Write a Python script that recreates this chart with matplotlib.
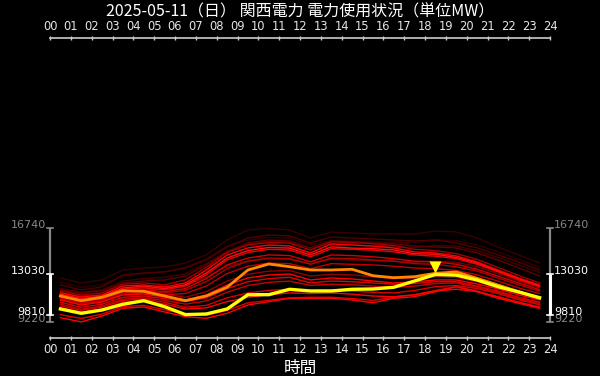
import matplotlib
matplotlib.use("Agg")
import matplotlib.pyplot as plt
import matplotlib.transforms as mtransforms

# hourly values (MW), plotted at the middle of each hour
hours = [h + 0.5 for h in range(24)]
hour_labels = ["%02d" % h for h in range(25)]

today = [10260, 9914, 10179, 10637, 10926, 10444, 9810, 9858, 10260, 11408, 11408, 11842,
         11705, 11705, 11842, 11866, 12002, 12508, 13030, 12980, 12589, 12050, 11625, 11167]
yesterday = [11304, 10926, 11199, 11729, 11681, 11304, 10926, 11304, 12002, 13391, 13873, 13656,
             13391, 13391, 13448, 12934, 12773, 12853, 13126, 13231, 12725, 12187, 11649, 11119]

# past days, drawn darkest first
past_days = [
    [12750, 12350, 12590, 13390, 13550, 13630, 13950, 14600, 15800, 16600, 16740, 16600,
     15960, 16440, 16360, 16280, 16280, 16280, 16520, 16440, 15960, 15240, 14600, 13950],
    [12400, 12000, 12200, 12900, 13100, 13250, 13600, 14300, 15300, 15800, 16000, 15950,
     15400, 15750, 15700, 15650, 15600, 15600, 15800, 15750, 15400, 14850, 14250, 13600],
    [11900, 11600, 11800, 12500, 12700, 12800, 13100, 13900, 14900, 15450, 15700, 15650,
     15150, 15500, 15400, 15300, 15250, 15200, 15350, 15300, 14950, 14400, 13800, 13200],
    [12190, 11790, 12030, 12990, 13150, 13230, 13550, 14190, 15240, 15960, 16200, 16120,
     15560, 16040, 15960, 15880, 15800, 15720, 15800, 15560, 15160, 14600, 14030, 13390],
    [11790, 11545, 11705, 12350, 12510, 12590, 12910, 13790, 14840, 15560, 15800, 15720,
     15160, 15720, 15640, 15560, 15480, 15320, 15240, 15160, 14760, 14190, 13550, 12910],
    [11600, 11250, 11400, 11900, 12000, 11950, 12150, 12800, 13700, 14100, 14300, 14250,
     13900, 14250, 14200, 14150, 14100, 14000, 14100, 14000, 13650, 13100, 12500, 11950],
    [11150, 10750, 10950, 11550, 11650, 11450, 11200, 11650, 12500, 13050, 13300, 13350,
     12900, 13050, 13000, 12850, 12700, 12750, 12850, 12800, 12450, 12000, 11500, 11050],
    [11700, 11380, 11550, 12250, 12350, 12200, 12600, 13600, 14800, 15400, 15600, 15550,
     15000, 15650, 15600, 15500, 15350, 15050, 14950, 14700, 14250, 13600, 12950, 12350],
    [11100, 10800, 10950, 11600, 11700, 11550, 11750, 12450, 13500, 14100, 14350, 14300,
     13850, 14350, 14300, 14200, 14100, 13900, 13850, 13650, 13300, 12750, 12200, 11700],
    [11000, 10700, 10850, 11450, 11550, 11400, 11500, 12100, 13100, 13700, 13950, 13900,
     13500, 13900, 13850, 13800, 13700, 13550, 13500, 13350, 13000, 12500, 11950, 11500],
    [10650, 10250, 10500, 11050, 11150, 10950, 10650, 10900, 11600, 12150, 12400, 12500,
     12150, 12250, 12200, 12100, 12000, 12100, 12300, 12350, 12000, 11600, 11100, 10700],
    [11200, 10900, 11050, 11700, 11800, 11650, 11900, 12700, 13800, 14350, 14600, 14550,
     14050, 14600, 14550, 14450, 14300, 14100, 14050, 13850, 13450, 12900, 12350, 11800],
    [10500, 10150, 10400, 10950, 11050, 10800, 10400, 10550, 11150, 11550, 11750, 11850,
     11750, 11800, 11700, 11600, 11550, 11750, 12050, 12150, 11900, 11500, 11000, 10600],
    [10800, 10400, 10650, 11200, 11300, 11100, 10850, 11150, 11900, 12450, 12700, 12800,
     12350, 12500, 12450, 12350, 12250, 12300, 12450, 12450, 12100, 11700, 11200, 10800],
    [9800, 9500, 9850, 10450, 10550, 10200, 9850, 9750, 10150, 10750, 10950, 11150,
     11200, 11200, 11100, 10950, 11200, 11400, 11750, 12050, 11700, 11200, 10800, 10400],
    [11300, 10980, 11150, 11870, 11950, 11800, 12100, 13000, 14200, 14800, 15050, 15000,
     14450, 15100, 15050, 14980, 14850, 14600, 14500, 14300, 13850, 13250, 12600, 12050],
    [11450, 11100, 11300, 11950, 12100, 11900, 12200, 13150, 14350, 14950, 15200, 15150,
     14600, 15250, 15150, 15100, 15000, 14700, 14650, 14400, 13950, 13300, 12700, 12120],
    [10983, 10580, 10820, 11385, 11460, 11220, 10983, 11385, 12190, 12750, 12990, 13070,
     12590, 12750, 12670, 12510, 12350, 12430, 12590, 12590, 12270, 11870, 11385, 10983],
    [10350, 10000, 10250, 10800, 10900, 10650, 10250, 10350, 10850, 11200, 11400, 11550,
     11500, 11550, 11450, 11300, 11250, 11400, 11700, 11850, 11650, 11250, 10800, 10400],
    [11545, 11223, 11384, 12107, 12188, 12027, 12348, 13391, 14596, 15158, 15399, 15319,
     14757, 15480, 15399, 15319, 15158, 14837, 14757, 14516, 14034, 13391, 12749, 12188],
    [9561, 9220, 9698, 10316, 10420, 10019, 9641, 9513, 9914, 10581, 10846, 11119,
     11119, 11119, 10982, 10766, 11119, 11247, 11649, 12050, 11649, 11119, 10717, 10316],
]
past_colors = ["#3a0000", "#300000", "#450000", "#500000", "#600000", "#700000",
               "#900000", "#a00000", "#b00000", "#c00000", "#c80000", "#d00000",
               "#d80000", "#e00000", "#e00000", "#ee0000", "#ff1010", "#ff0000",
               "#ff0000", "#ff0000", "#ff0000"]

title = "2025-05-11（日） 関西電力 電力使用状況（単位MW）"
cjk = ["Noto Sans CJK JP", "DejaVu Sans"]

all_values = [v for d in past_days for v in d] + today + yesterday
all_min, all_max = min(all_values), max(all_values)
day_min, day_max = min(today), max(today)
peak_hour = hours[today.index(day_max)]

fig = plt.figure(figsize=(6, 3.76), dpi=100, facecolor="black")
ax = fig.add_axes([50 / 600, 38 / 376, 500 / 600, 300 / 376], facecolor="black")

for d, c in zip(past_days, past_colors):
    ax.plot(hours, d, color=c, lw=1.0, solid_joinstyle="miter")
ax.plot(hours, yesterday, color="#ff8800", lw=2.0)
ax.plot(hours, today, color="#ffff00", lw=2.4)

# peak marker, a few pixels above the line
mark_tr = mtransforms.offset_copy(ax.transData, fig=fig, x=0, y=7, units="dots")
ax.plot([peak_hour], [day_max], marker="v", ms=8, color="#ffff00", mec="none",
        transform=mark_tr)

ax.set_xlim(0, 24)
ax.set_ylim(7930, 32020)

for side in ["left", "right"]:
    ax.spines[side].set_visible(False)
for side in ["top", "bottom"]:
    ax.spines[side].set_color("#cccccc")
    ax.spines[side].set_linewidth(1.2)

ax.set_xticks(range(25))
ax.set_xticklabels(hour_labels)
ax.set_yticks([])
ax.tick_params(axis="x", top=True, labeltop=True, bottom=True, labelbottom=True,
               length=3, width=1, direction="inout", colors="#cccccc",
               labelcolor="#e6e6e6", labelsize=8.3, pad=2)
ax.set_xlabel("時間", color="white", fontsize=12, family=cjk, labelpad=3)

# range brackets on both sides
tr = mtransforms.blended_transform_factory(ax.transAxes, ax.transData)
for xpos, sign, ha in [(0.0, -1, "right"), (1.0, 1, "left")]:
    ax.plot([xpos, xpos], [all_min, all_max], color="#888888", lw=1.6, transform=tr,
            clip_on=False, solid_capstyle="butt")
    ax.plot([xpos, xpos], [day_min, day_max], color="white", lw=2.2, transform=tr,
            clip_on=False, solid_capstyle="butt")
    for v, c in [(all_min, "#888888"), (all_max, "#888888"), (day_min, "white"), (day_max, "white")]:
        ax.plot([xpos - 0.006, xpos + 0.006], [v, v], color=c, lw=1.2, transform=tr,
                clip_on=False)
        ax.text(xpos + sign * 0.008, v, str(v), color=c, fontsize=8, ha=ha,
                va="baseline", transform=tr)

fig.text(0.5, 1 - 12 / 376, title, color="white", fontsize=11.5, family=cjk,
         ha="center", va="center")

fig.savefig("out.png", dpi=100, facecolor="black")
